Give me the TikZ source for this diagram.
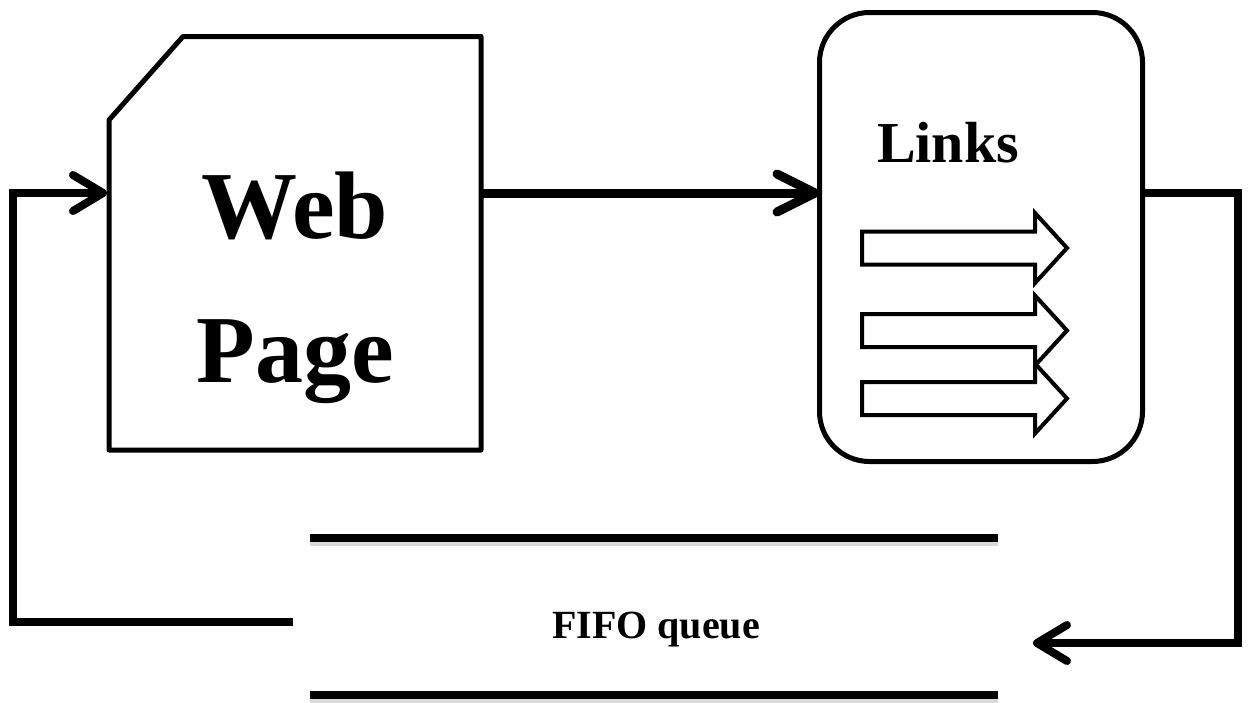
\documentclass[tikz,border=0pt]{standalone}
\usepackage{fontspec}
\setmainfont{Liberation Serif}
\usetikzlibrary{arrows.meta,calc}
\tikzset{
  conn/.style={line width=8pt},
  barb/.style={-{Straight Barb[length=30pt,width=36pt,round]}},
  bigbarb/.style={-{Straight Barb[length=38pt,width=38pt,round]}},
  box/.style={line width=5pt},
  blockarrow/.style={draw, line width=4pt, fill=white, line join=miter},
  qline/.style={line width=8pt},
  qshadow/.style={line width=7pt, draw=black!25, opacity=0.6},
  blank/.style={inner sep=0pt, outer sep=0pt}
}
\begin{document}
\begin{tikzpicture}[x=1pt,y=-1pt]
\useasboundingbox (0,0) rectangle (1248,702);

% Web page
\node[blank, minimum width=372pt, minimum height=413.5pt] (web) at (295,243.25) {};
\draw[box, line join=round] ([yshift=-83.5pt]web.north west) -- ([xshift=74pt]web.north west)
   -- (web.north east) -- (web.south east) -- (web.south west) -- cycle;
\node[blank, anchor=base, font=\fontsize{96}{100}\selectfont\bfseries] (webA) at (295,238) {Web};
\node[blank, anchor=base, font=\fontsize{96}{100}\selectfont\bfseries] (webB) at (295,382) {Page};

% Links box
\node[blank, draw, box, rounded corners=50pt, minimum width=323pt, minimum height=449pt] (links) at (981,237) {};
\node[blank, anchor=base west, font=\fontsize{58}{60}\selectfont\bfseries] (linkstxt) at (877,162) {Links};
\foreach \c in {248,330.5,398.5}{
  \path[blockarrow] (862,{\c-16.5}) -- (1035,{\c-16.5}) -- (1035,{\c-35}) -- (1067,\c)
     -- (1035,{\c+35}) -- (1035,{\c+16.5}) -- (862,{\c+16.5}) -- cycle;
}

% FIFO queue
\node[blank, minimum width=688pt, minimum height=157pt] (queue) at (654,616.5) {};
\draw[qshadow] ([yshift=-4pt]queue.north west) -- ([yshift=-4pt]queue.north east);
\draw[qshadow] ([yshift=-4pt]queue.south west) -- ([yshift=-4pt]queue.south east);
\draw[qline] (queue.north west) -- (queue.north east);
\draw[qline] (queue.south west) -- (queue.south east);
\node[blank, anchor=base, font=\fontsize{40}{44}\selectfont\bfseries] (qlabel) at (656,638) {FIFO queue};

% connectors
\draw[line width=9pt, bigbarb] ([yshift=50.25pt]web.east) -- ([yshift=44pt]links.west);
\draw[conn, barb, line join=miter] ([yshift=44pt]links.east) -| ([xshift=240pt,yshift=-26.5pt]queue.east)
   -- ([xshift=35pt,yshift=-26.5pt]queue.east);
\draw[conn, barb, line join=miter] ([xshift=-17pt,yshift=-5.5pt]queue.west) -| ([xshift=-96pt,yshift=50.25pt]web.west)
   -- ([xshift=-2pt,yshift=50.25pt]web.west);
\end{tikzpicture}
\end{document}
